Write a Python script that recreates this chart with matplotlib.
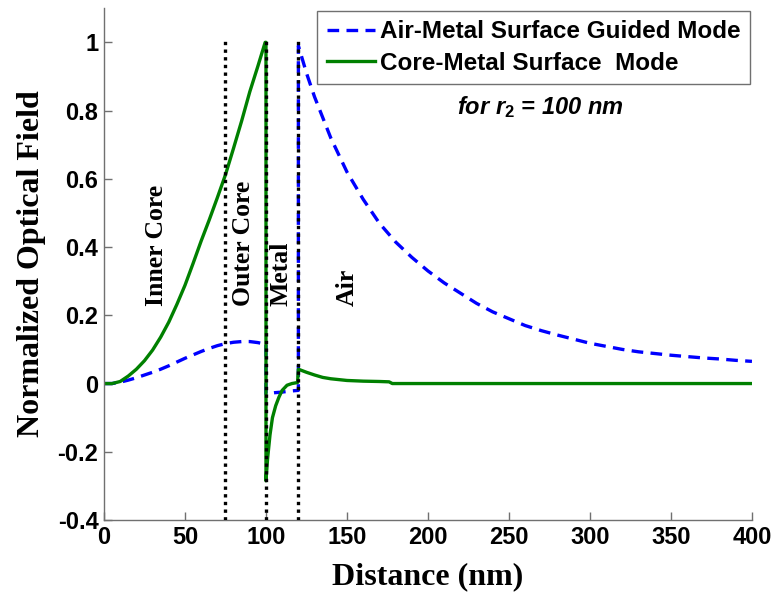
import matplotlib
matplotlib.use('Agg')
import matplotlib.pyplot as plt

plt.rcParams['mathtext.fontset'] = 'custom'
plt.rcParams['mathtext.it'] = 'Liberation Sans:italic:bold'
plt.rcParams['mathtext.rm'] = 'Liberation Sans:bold'

# Air-Metal surface guided mode (blue dashed)
air_x = [0, 5, 10, 15, 20, 25, 30, 35, 40, 45, 50, 55, 60, 65, 70, 75, 80, 85, 90, 95, 97,
         100, 100, 105, 110, 115, 120,
         120, 125, 130, 135, 140, 150, 160, 170, 180, 190, 200, 210, 220, 230, 240, 250,
         260, 270, 280, 290, 300, 310, 320, 330, 340, 350, 360, 370, 380, 390, 400]
air_y = [0, 0.0, 0.004, 0.01, 0.017, 0.025, 0.033, 0.042, 0.052, 0.063, 0.074, 0.084,
         0.094, 0.103, 0.111, 0.117, 0.121, 0.123, 0.123, 0.12, 0.118,
         0.118, -0.03, -0.027, -0.025, -0.022, -0.02,
         0.99, 0.91, 0.84, 0.78, 0.72, 0.62, 0.54, 0.47, 0.415, 0.37, 0.33, 0.295, 0.265,
         0.235, 0.21, 0.19, 0.17, 0.155, 0.142, 0.13, 0.118, 0.109, 0.10, 0.093, 0.088,
         0.083, 0.079, 0.075, 0.072, 0.068, 0.065]

# Core-Metal surface mode (green solid)
core_x = [0, 5, 10, 15, 20, 25, 30, 35, 40, 45, 50, 55, 60, 65, 70, 75, 80, 85, 90, 95, 99.5,
          100, 100, 101, 102.5, 104, 106, 108, 110, 113, 116, 119.5,
          120, 125, 130, 135, 140, 150, 160, 170, 176, 178, 200, 250, 300, 350, 400]
core_y = [0, 0.0, 0.006, 0.022, 0.042, 0.067, 0.098, 0.136, 0.18, 0.232, 0.288, 0.352,
          0.418, 0.48, 0.545, 0.612, 0.69, 0.77, 0.855, 0.93, 1.0,
          1.0, -0.285, -0.22, -0.15, -0.10, -0.065, -0.04, -0.02, -0.005, 0.0, 0.003,
          0.042, 0.033, 0.025, 0.018, 0.014, 0.009, 0.007, 0.006, 0.005, 0.0, 0.0, 0.0,
          0.0, 0.0, 0.0]

# layer boundaries (nm)
boundaries = [75, 100, 120]
regions = ['Inner Core', 'Outer Core', 'Metal', 'Air']
region_x = [32.7, 86.4, 109.3, 150]
region_base = 0.226

fig = plt.figure(figsize=(7.76, 6.0), dpi=100)
ax = fig.add_axes([0.134, 0.1333, 0.835, 0.853])

ax.plot(air_x, air_y, color='#0000ff', linewidth=2.4, linestyle=(0, (3.5, 2.2)),
        label='Air-Metal Surface Guided Mode')
ax.plot(core_x, core_y, color='#008000', linewidth=2.4,
        label='Core-Metal Surface  Mode')

for b in boundaries:
    ax.plot([b, b], [-0.4, 1.01], color='black', linewidth=2.4,
            linestyle=(0, (1, 1.3)), zorder=5)

for name, tx in zip(regions, region_x):
    ax.text(tx, region_base, name, rotation=90, ha='center', va='bottom',
            fontsize=18.5, fontweight='bold', family='Liberation Serif')

ax.text(269, 0.81, 'for $\\mathit{r}_{2}$ = 100 nm', ha='center', va='center',
        fontsize=17, fontweight='bold', fontstyle='italic', family='Liberation Sans')

ax.set_xlim(0, 400)
ax.set_ylim(-0.4, 1.1)
ax.set_xticks([0, 50, 100, 150, 200, 250, 300, 350, 400])
ax.set_yticks([-0.4, -0.2, 0, 0.2, 0.4, 0.6, 0.8, 1])
ax.set_yticklabels(['-0.4', '-0.2', '0', '0.2', '0.4', '0.6', '0.8', '1'])

for side in ['top', 'right']:
    ax.spines[side].set_visible(False)
for side in ['left', 'bottom']:
    ax.spines[side].set_color('#707070')
    ax.spines[side].set_linewidth(1.0)
ax.tick_params(direction='in', length=6, width=1, color='#707070', pad=4)
for lbl in ax.get_xticklabels() + ax.get_yticklabels():
    lbl.set_fontsize(17)
    lbl.set_fontweight('bold')
    lbl.set_family('Liberation Sans')

ax.set_xlabel('Distance (nm)', fontsize=23, fontweight='bold', family='Liberation Serif',
              labelpad=10)
ax.set_ylabel('Normalized Optical Field', fontsize=23, fontweight='bold',
              family='Liberation Serif', labelpad=12)
ax.yaxis.set_label_coords(-0.09, 0.5)

leg = ax.legend(loc='upper right', bbox_to_anchor=(0.997, 0.995), borderaxespad=0,
                fancybox=False, framealpha=1, edgecolor='#707070', handlelength=2.0,
                handletextpad=0.2, labelspacing=0.35, borderpad=0.38,
                prop={'family': 'Liberation Sans', 'weight': 'bold', 'size': 17.5})
leg.get_frame().set_linewidth(1.0)

fig.savefig('out.png', dpi=100)
